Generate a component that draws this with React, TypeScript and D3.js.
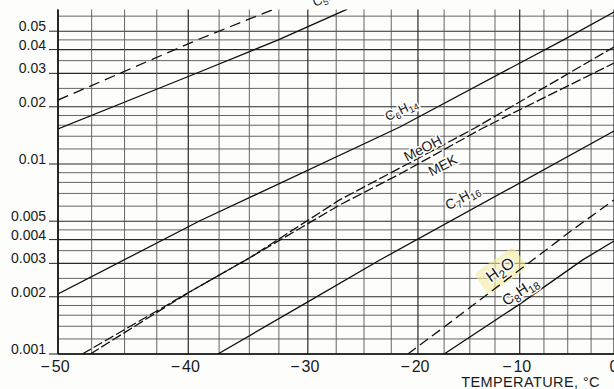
import React from "react";
import * as d3 from "d3";

// temperature ticks (°C) and pressure ticks (atm)
const tempTicks = [-50, -40, -30, -20, -10, 0];
const pressureTicks = [0.05, 0.04, 0.03, 0.02, 0.01, 0.005, 0.004, 0.003, 0.002, 0.001];
const gridMantissas = [1, 1.2, 1.4, 1.6, 1.8, 2, 2.5, 3, 3.5, 4, 4.5, 5, 6, 7, 8, 9];

// vapour pressure curves: [temperature °C, pressure]
const topDashed = [[-50, 0.0217], [-39.1, 0.0455], [-33.1, 0.0646]];
const pentane = [[-50, 0.0153], [-39.1, 0.0305], [-32.6, 0.0449], [-26.5, 0.0654]];
const hexane = [[-50, 0.00207], [-39.1, 0.00501], [-21.7, 0.01566], [-5.5, 0.0449], [0, 0.0631]];
const methanol = [[-47.6, 0.001], [-39.9, 0.00212], [-35, 0.0032], [-27.2, 0.00647], [-21.7, 0.00952], [-14.5, 0.01547], [0, 0.0413]];
const mek = [[-48.2, 0.001], [-39.9, 0.00212], [-35, 0.0032], [-27.2, 0.00608], [-21.7, 0.00886], [-13.7, 0.01547], [0, 0.034]];
const heptane = [[-37.6, 0.001], [-30, 0.00188], [-23.55, 0.003125], [0, 0.0149]];
const water = [[-20.95, 0.001], [-17.4, 0.0014], [-4.5, 0.0045], [0, 0.00647]];
const octane = [[-17.5, 0.001], [-10, 0.00183], [-3.4, 0.00313], [0, 0.00393]];

// curve labels: text, anchor temperature, anchor pressure
const labelNames = ["C5H12", "C6H14", "MeOH", "MEK", "C7H16", "H2O", "C8H18"];
const labelTemps = [-28.1, -21.5, -19.5, -17.6, -15.7, -11.9, -9.9];
const labelPress = [0.0755, 0.019, 0.01199, 0.00976, 0.00662, 0.00274, 0.00212];

const W = 614;
const H = 389;
const pTop = 0.065;

const x = d3.scaleLinear().domain([1 / 223.15, 1 / 273.15]).range([58, 614]);
const xT = (t: number) => x(1 / (t + 273.15));
const y = d3.scaleLog().domain([0.001, 0.01]).range([354, 164]);

const left = xT(-50);
const right = xT(0);
const top = y(pTop);
const bottom = y(0.001);

const curves = [
  { data: topDashed, dash: "11,6" },
  { data: pentane, dash: null },
  { data: hexane, dash: null },
  { data: methanol, dash: "10,3" },
  { data: mek, dash: "10,3" },
  { data: heptane, dash: null },
  { data: water, dash: "10,5" },
  { data: octane, dash: null },
];

const labelAngles = [-24, -26, -27, -27, -29, -35, -33];
const labelSizes = [13, 13, 14, 14, 14, 16, 15];

const line = d3
  .line<number[]>()
  .x((d) => xT(d[0]))
  .y((d) => y(d[1]));

function Formula({ text, size }: { text: string; size: number }) {
  const parts = text.match(/[A-Za-z]+|\d+/g) || [];
  let shifted = false;
  return (
    <>
      {parts.map((p, i) => {
        const isNum = /\d/.test(p);
        let dy = 0;
        if (isNum && !shifted) {
          dy = size * 0.3;
          shifted = true;
        } else if (!isNum && shifted) {
          dy = -size * 0.3;
          shifted = false;
        }
        return (
          <tspan key={i} dy={dy} fontSize={isNum ? size * 0.72 : size}>
            {p}
          </tspan>
        );
      })}
    </>
  );
}

export default function App() {
  const hGrid: number[] = [];
  [0.001, 0.01].forEach((dec) =>
    gridMantissas.forEach((m) => {
      const v = m * dec;
      if (v <= pTop) hGrid.push(v);
    })
  );
  const vGrid = d3.range(-50, 0.01, 2.5);

  return (
    <div style={{ position: "absolute", left: 0, top: 0 }}>
      <svg width={W} height={H} style={{ display: "block", background: "#fdfdfc" }} fontFamily="'Liberation Sans', Arial, sans-serif">
        <defs>
          <clipPath id="plot">
            <rect x={left} y={top} width={right - left + 2} height={bottom - top} />
          </clipPath>
        </defs>

        {/* grid */}
        {hGrid.map((v, i) => {
          const major = pressureTicks.includes(+v.toPrecision(3));
          return (
            <line
              key={"h" + i}
              x1={left}
              x2={right + 2}
              y1={y(v)}
              y2={y(v)}
              stroke={major ? "#2a2a2a" : "#555"}
              strokeWidth={major ? 1.1 : 0.9}
            />
          );
        })}
        {vGrid.map((t, i) => {
          const major = t % 10 === 0;
          return (
            <line
              key={"v" + i}
              x1={xT(t)}
              x2={xT(t)}
              y1={top}
              y2={bottom}
              stroke={major ? "#2a2a2a" : "#555"}
              strokeWidth={major ? 1.2 : 0.9}
            />
          );
        })}
        <line x1={left} x2={left} y1={top} y2={bottom} stroke="#111" strokeWidth={1.6} />
        <line x1={left} x2={right + 2} y1={bottom} y2={bottom} stroke="#111" strokeWidth={1.4} />

        {/* y ticks and labels */}
        {pressureTicks.map((p) => (
          <g key={"yt" + p}>
            <line x1={49} x2={left} y1={y(p)} y2={y(p)} stroke="#222" strokeWidth={1} />
            <text x={46} y={y(p)} textAnchor="end" fontSize={14} fill="#1a1a1a">
              {p}
            </text>
          </g>
        ))}

        {/* x labels */}
        {tempTicks.map((t) => (
          <text key={"xt" + t} x={t === 0 ? xT(t) : xT(t) - 3} y={372} textAnchor="middle" fontSize={16} fill="#1a1a1a">
            {t < 0 ? (
              <>
                <tspan>−</tspan>
                <tspan dx={2}>{Math.abs(t)}</tspan>
              </>
            ) : (
              t
            )}
          </text>
        ))}
        <text x={600} y={387} textAnchor="end" fontSize={14.5} letterSpacing={0.4} fill="#1a1a1a">
          TEMPERATURE, °C
        </text>

        {/* highlighter mark behind H2O */}
        <rect
          x={xT(labelTemps[5]) - 24}
          y={y(labelPress[5]) - 13}
          width={48}
          height={26}
          rx={5}
          fill="#f3eca0"
          opacity={0.6}
          transform={`rotate(${labelAngles[5]},${xT(labelTemps[5])},${y(labelPress[5])})`}
        />

        {/* curves */}
        <g clipPath="url(#plot)">
          {curves.map((c, i) => (
            <path
              key={"c" + i}
              d={line(c.data) || ""}
              fill="none"
              stroke="#111"
              strokeWidth={1.3}
              strokeDasharray={c.dash || undefined}
            />
          ))}
        </g>

        {/* curve labels */}
        {labelNames.map((name, i) => {
          const cx = xT(labelTemps[i]);
          const cy = y(labelPress[i]);
          return (
            <text
              key={"l" + name}
              x={cx}
              y={cy}
              textAnchor="middle"
              dominantBaseline="middle"
              fill="#1a1a1a"
              fontSize={labelSizes[i]}
              transform={`rotate(${labelAngles[i]},${cx},${cy})`}
              stroke="#fdfdfc"
              strokeWidth={3}
              paintOrder="stroke"
            >
              <Formula text={name} size={labelSizes[i]} />
            </text>
          );
        })}
      </svg>
    </div>
  );
}
